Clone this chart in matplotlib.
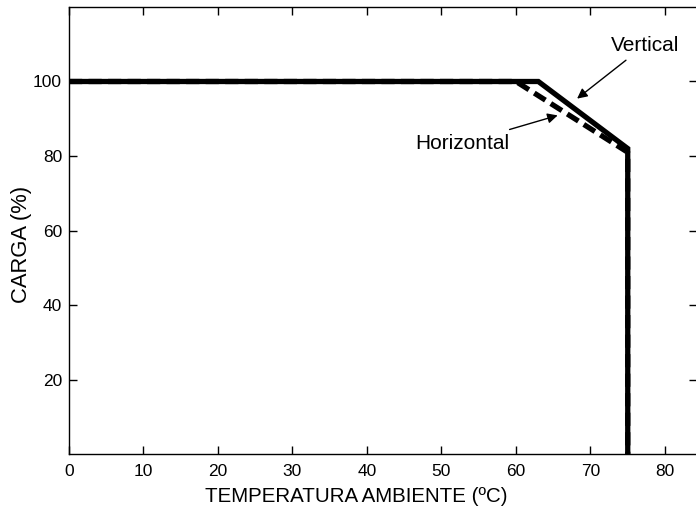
import matplotlib
matplotlib.use("Agg")
import matplotlib.pyplot as plt

plt.rcParams['font.family'] = ['Liberation Sans', 'DejaVu Sans']

# Derating curves: ambient temperature (ºC) vs load (%)
temp_vertical = [0, 63, 75, 75]
load_vertical = [100, 100, 82, 0]
temp_horizontal = [0, 60, 75, 75]
load_horizontal = [100, 100, 81, 0]

x_ticks = [0, 10, 20, 30, 40, 50, 60, 70, 80]
y_ticks = [20, 40, 60, 80, 100]

fig = plt.figure(figsize=(6.96, 5.14), dpi=100)
ax = fig.add_axes([0.0991, 0.1167, 0.9029, 0.8697])

ax.plot(temp_horizontal, load_horizontal, color='black', lw=3.8,
        dashes=[2.5, 1.2], solid_joinstyle='miter')
ax.plot(temp_vertical, load_vertical, color='black', lw=3.8,
        solid_joinstyle='miter')

ax.set_xlim(0, 84.35)
ax.set_ylim(0, 120)
ax.set_xticks(x_ticks)
ax.set_yticks(y_ticks)
ax.tick_params(direction='in', length=6, width=1, labelsize=12.5,
               top=True, right=True, pad=7)
ax.tick_params(axis='y', pad=5)
for s in ax.spines.values():
    s.set_linewidth(1)

ax.set_xlabel('TEMPERATURA AMBIENTE (ºC)', fontsize=14.8)
ax.set_ylabel('CARGA (%)', fontsize=15.8)
ax.xaxis.set_label_coords(0.457, -0.074)
ax.yaxis.set_label_coords(-0.059, 0.468)

ax.annotate('Vertical', xy=(68.2, 95.4), xytext=(77.3, 109.7),
            ha='center', va='center', fontsize=15,
            arrowprops=dict(arrowstyle='-|>', color='black', lw=1,
                            mutation_scale=15, shrinkA=3, shrinkB=0))
ax.annotate('Horizontal', xy=(65.6, 90.9), xytext=(52.8, 83.4),
            ha='center', va='center', fontsize=15,
            arrowprops=dict(arrowstyle='-|>', color='black', lw=1,
                            mutation_scale=15, shrinkA=4, shrinkB=0))

fig.savefig('out.png', dpi=100)
